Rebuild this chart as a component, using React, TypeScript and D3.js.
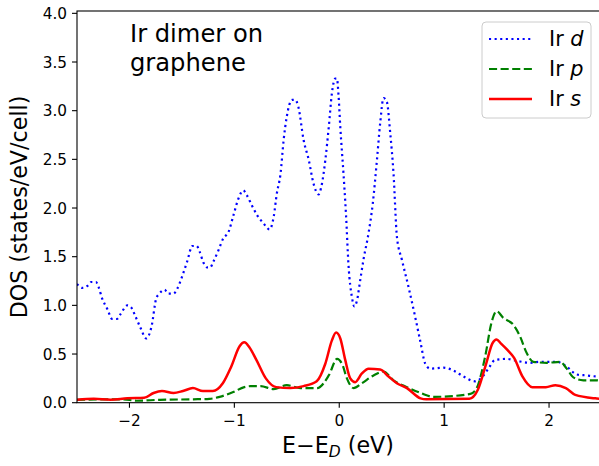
import React from "react";
import * as d3 from "d3";

const WIDTH = 599;
const HEIGHT = 466;
const FONT = "DejaVu Sans, sans-serif";

// plot box in pixels (right edge runs past the window, as in the original)
const PLOT = { left: 77, right: 601.5, top: 11, bottom: 402.7 };

// Ir d  [E - E_D (eV), DOS]
const irD: [number, number][] = [
  [-2.5, 1.22], [-2.45, 1.18], [-2.4, 1.2], [-2.365, 1.24], [-2.32, 1.24], [-2.295, 1.19],
  [-2.26, 1.07], [-2.21, 0.96], [-2.165, 0.86], [-2.12, 0.86], [-2.085, 0.91], [-2.02, 1.0],
  [-1.985, 0.98], [-1.94, 0.88], [-1.895, 0.77], [-1.84, 0.66], [-1.79, 0.78], [-1.745, 1.07],
  [-1.715, 1.12], [-1.665, 1.16], [-1.63, 1.12], [-1.58, 1.12], [-1.545, 1.17], [-1.5, 1.29],
  [-1.45, 1.45], [-1.4, 1.61], [-1.36, 1.61], [-1.33, 1.55], [-1.295, 1.44], [-1.26, 1.39],
  [-1.23, 1.39], [-1.2, 1.45], [-1.15, 1.57], [-1.105, 1.69], [-1.057, 1.75], [-1.01, 1.92],
  [-0.96, 2.1], [-0.915, 2.18], [-0.88, 2.13], [-0.83, 2.02], [-0.785, 1.93], [-0.72, 1.84],
  [-0.665, 1.78], [-0.625, 1.91], [-0.595, 2.15], [-0.56, 2.35], [-0.53, 2.7], [-0.5, 2.94],
  [-0.45, 3.11], [-0.42, 3.11], [-0.39, 3.04], [-0.34, 2.7], [-0.29, 2.49], [-0.245, 2.25],
  [-0.197, 2.14], [-0.165, 2.25], [-0.133, 2.49], [-0.1, 2.83], [-0.07, 3.18], [-0.038, 3.33],
  [-0.022, 3.33], [-0.007, 3.16], [0.01, 2.83], [0.04, 2.36], [0.064, 1.94], [0.089, 1.4],
  [0.12, 1.09], [0.143, 0.99], [0.169, 1.05], [0.2, 1.26], [0.231, 1.47], [0.279, 1.74],
  [0.32, 2.05], [0.359, 2.49], [0.39, 2.87], [0.422, 3.13], [0.454, 3.09], [0.486, 2.77],
  [0.517, 2.36], [0.55, 1.7], [0.597, 1.47], [0.66, 1.19], [0.724, 0.88], [0.771, 0.64],
  [0.82, 0.4], [0.867, 0.35], [0.993, 0.36], [1.089, 0.33], [1.184, 0.27], [1.295, 0.22],
  [1.359, 0.26], [1.422, 0.35], [1.486, 0.44], [1.597, 0.45], [1.692, 0.43], [1.819, 0.41],
  [1.914, 0.42], [2.073, 0.42], [2.169, 0.37], [2.264, 0.29], [2.359, 0.28], [2.454, 0.27],
  [2.5, 0.27],
];

// Ir p
const irP: [number, number][] = [
  [-2.5, 0.03], [-2.06, 0.035], [-1.93, 0.02], [-1.71, 0.03], [-1.39, 0.035], [-1.237, 0.04],
  [-1.14, 0.06], [-1.01, 0.11], [-0.905, 0.16], [-0.845, 0.17], [-0.75, 0.17], [-0.625, 0.14],
  [-0.5, 0.18], [-0.37, 0.15], [-0.21, 0.15], [-0.1, 0.28], [-0.02, 0.45], [0.03, 0.39],
  [0.073, 0.25], [0.136, 0.15], [0.216, 0.2], [0.327, 0.28], [0.422, 0.32], [0.517, 0.23],
  [0.645, 0.16], [0.775, 0.1], [0.9, 0.06], [1.25, 0.09], [1.31, 0.15], [1.39, 0.47],
  [1.453, 0.83], [1.5, 0.94], [1.565, 0.87], [1.66, 0.8], [1.724, 0.68], [1.787, 0.51],
  [1.85, 0.42], [1.98, 0.41], [2.105, 0.42], [2.169, 0.35], [2.232, 0.26], [2.327, 0.23],
  [2.454, 0.23], [2.5, 0.22],
];

// Ir s
const irS: [number, number][] = [
  [-2.5, 0.03], [-2.34, 0.04], [-2.18, 0.03], [-2.02, 0.045], [-1.86, 0.05], [-1.77, 0.1],
  [-1.69, 0.12], [-1.58, 0.1], [-1.49, 0.12], [-1.395, 0.15], [-1.3, 0.12], [-1.205, 0.12],
  [-1.11, 0.2], [-1.03, 0.37], [-0.95, 0.58], [-0.905, 0.62], [-0.857, 0.57], [-0.79, 0.44],
  [-0.7, 0.25], [-0.6, 0.16], [-0.467, 0.15], [-0.34, 0.17], [-0.215, 0.22], [-0.133, 0.4],
  [-0.07, 0.64], [-0.03, 0.72], [0.01, 0.66], [0.057, 0.44], [0.105, 0.25], [0.152, 0.21],
  [0.216, 0.3], [0.279, 0.35], [0.39, 0.34], [0.47, 0.27], [0.549, 0.2], [0.645, 0.15],
  [0.775, 0.045], [0.83, 0.035], [1.24, 0.04], [1.32, 0.13], [1.4, 0.4], [1.46, 0.61],
  [1.5, 0.65], [1.54, 0.61], [1.605, 0.54], [1.667, 0.46], [1.746, 0.27], [1.84, 0.16],
  [1.97, 0.16], [2.06, 0.18], [2.16, 0.15], [2.25, 0.08], [2.44, 0.045], [2.5, 0.04],
];

const xTicks = [-2, -1, 0, 1, 2];
const yTicks = [0, 0.5, 1, 1.5, 2, 2.5, 3, 3.5, 4];

const SERIES = [
  { name: "d", data: irD, color: "blue", dash: "2.1,3.5", width: 2.2 },
  { name: "p", data: irP, color: "green", dash: "8.1,3.5", width: 2.2 },
  { name: "s", data: irS, color: "red", dash: null, width: 2.5 },
];

export default function App() {
  const xScale = d3.scaleLinear().domain([-2.5, 2.5]).range([PLOT.left, PLOT.right]);
  const yScale = d3.scaleLinear().domain([0, 4.024]).range([PLOT.bottom, PLOT.top]);

  const line = d3
    .line<[number, number]>()
    .x((d) => xScale(d[0]))
    .y((d) => yScale(d[1]))
    .curve(d3.curveMonotoneX);

  return (
    <div style={{ position: "absolute", left: 0, top: 0 }}>
      <svg width={WIDTH} height={HEIGHT} style={{ display: "block", background: "white" }} fontFamily={FONT}>
        <defs>
          <clipPath id="plot-clip">
            <rect x={PLOT.left} y={PLOT.top} width={PLOT.right - PLOT.left} height={PLOT.bottom - PLOT.top} />
          </clipPath>
        </defs>

        <g clipPath="url(#plot-clip)">
          {SERIES.map((s) => (
            <path
              key={s.name}
              d={line(s.data) ?? ""}
              fill="none"
              stroke={s.color}
              strokeWidth={s.width}
              strokeDasharray={s.dash ?? undefined}
              strokeLinejoin="round"
            />
          ))}
        </g>

        {/* frame */}
        <rect
          x={PLOT.left}
          y={PLOT.top}
          width={PLOT.right - PLOT.left}
          height={PLOT.bottom - PLOT.top}
          fill="none"
          stroke="black"
          strokeWidth={1.1}
        />

        {/* x ticks */}
        {xTicks.map((t) => (
          <g key={t} transform={`translate(${xScale(t)},0)`}>
            <line y1={PLOT.bottom} y2={PLOT.bottom + 5} stroke="black" strokeWidth={1.1} />
            <text y={426} textAnchor="middle" fontSize={15.3} fill="black">
              {t < 0 ? `\u2212${Math.abs(t)}` : t}
            </text>
          </g>
        ))}

        {/* y ticks */}
        {yTicks.map((t) => (
          <g key={t} transform={`translate(0,${yScale(t)})`}>
            <line x1={PLOT.left - 5} x2={PLOT.left} stroke="black" strokeWidth={1.1} />
            <text x={67} dy="0.36em" textAnchor="end" fontSize={15.3} fill="black">
              {d3.format(".1f")(t)}
            </text>
          </g>
        ))}

        {/* axis labels */}
        <text x={338} y={453} textAnchor="middle" fontSize={22.2} fill="black">
          E{"\u2212"}E<tspan fontStyle="italic" fontSize={15.5} dy={4}>D</tspan>
          <tspan dy={-4}> (eV)</tspan>
        </text>
        <text
          transform="translate(27,207) rotate(-90)"
          textAnchor="middle"
          fontSize={22.2}
          fill="black"
        >
          DOS (states/eV/cell)
        </text>

        {/* annotation */}
        <text x={130} y={41.7} fontSize={24.2} fill="black">Ir dimer on</text>
        <text x={130} y={70.5} fontSize={24.2} fill="black">graphene</text>

        {/* legend */}
        <rect x={482} y={22} width={109} height={96} rx={4} fill="white" fillOpacity={0.8} stroke="#cccccc" strokeWidth={1} />
        {SERIES.map((s, i) => {
          const y = 39 + i * 30;
          return (
            <g key={s.name}>
              <line
                x1={489}
                x2={532}
                y1={y}
                y2={y}
                stroke={s.color}
                strokeWidth={s.width}
                strokeDasharray={s.dash ?? undefined}
              />
              <text x={549} y={y + 6.7} fontSize={20.8} fill="black">
                Ir <tspan fontStyle="italic">{s.name}</tspan>
              </text>
            </g>
          );
        })}
      </svg>
    </div>
  );
}
